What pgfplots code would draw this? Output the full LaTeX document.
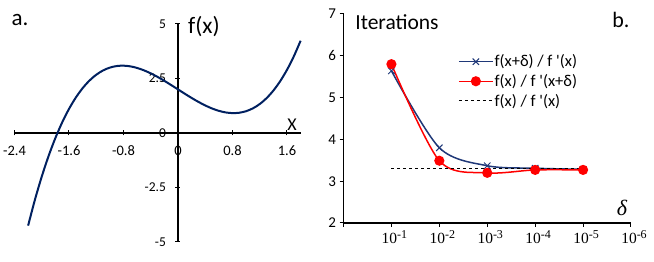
\documentclass[border=0pt]{standalone}
\usepackage{fontspec}
\setmainfont{Carlito}
\newfontfamily\serif{Liberation Serif}
\usepackage{pgfplots}
\pgfplotsset{compat=1.18}
\definecolor{navy}{RGB}{0,32,96}
\definecolor{navyb}{RGB}{31,56,120}
\newcommand{\tl}[1]{{\serif\fontsize{15.5}{15.5}\selectfont 10\raisebox{5.5pt}{\fontsize{12}{12}\selectfont -#1}}}
\begin{document}
\begin{tikzpicture}[x=1pt,y=1pt]
\useasboundingbox (0,0) rectangle (654,262);
\node[font=\fontsize{23}{23}\selectfont] at (20,242) {a.};
\node[font=\fontsize{23.5}{23.5}\selectfont] at (204,235) {f(x)};
\node[font=\fontsize{18}{18}\selectfont] at (292,137) {X};
\node[font=\fontsize{21.5}{21.5}\selectfont] at (397,240) {Iterations};
\node[font=\fontsize{22}{22}\selectfont] at (621,242) {b.};
\node[font=\fontsize{22}{22}\selectfont\serif\itshape] at (622,54) {δ};
\begin{axis}[
  at={(14.5pt,20pt)}, anchor=south west, scale only axis,
  width=286.1pt, height=218pt,
  xmin=-2.4, xmax=1.8, ymin=-5, ymax=5,
  axis lines=middle, axis line style={-, line width=1.2pt},
  hide obscured x ticks=false, hide obscured y ticks=false,
  xtick={-2.4,-1.6,-0.8,0,0.8,1.6},
  xticklabels={-2.4,-1.6,-0.8,0,0.8,1.6},
  ytick={-5,-2.5,0,2.5,5},
  yticklabels={-5,-2.5,0,2.5,5},
  tick align=center, major tick length=5pt, tick style={black, line width=1pt},
  xticklabel style={font=\fontsize{14.5}{14.5}\selectfont, yshift=-7pt},
  yticklabel style={font=\fontsize{13.5}{13.5}\selectfont, xshift=-6pt},
  clip=false,
]
\addplot[navy, line width=2pt, smooth] coordinates {
(-2.2,-4.248)(-2.1,-3.061)(-2.0,-2)(-1.9,-1.059)(-1.8,-0.232)(-1.7,0.487)
(-1.6,1.104)(-1.5,1.625)(-1.4,2.056)(-1.3,2.403)(-1.2,2.672)(-1.1,2.869)
(-1.0,3)(-0.9,3.071)(-0.8,3.088)(-0.7,3.057)(-0.6,2.984)(-0.5,2.875)
(-0.4,2.736)(-0.3,2.573)(-0.2,2.392)(-0.1,2.199)(0,2)(0.1,1.801)
(0.2,1.608)(0.3,1.427)(0.4,1.264)(0.5,1.125)(0.6,1.016)(0.7,0.943)
(0.8,0.912)(0.9,0.929)(1.0,1)(1.1,1.131)(1.2,1.328)(1.3,1.597)
(1.4,1.944)(1.5,2.375)(1.6,2.896)(1.7,3.513)(1.8,4.232)};
\end{axis}
\begin{axis}[
  at={(343.5pt,39pt)}, anchor=south west, scale only axis,
  width=287.5pt, height=209pt,
  xmin=0, xmax=6, ymin=2, ymax=7,
  axis x line=bottom, axis y line=left, axis line style={-, line width=1.2pt},
  xtick={0,1,2,3,4,5,6},
  xticklabels={,\tl{1},\tl{2},\tl{3},\tl{4},\tl{5},\tl{6}},
  ytick={2,3,4,5,6,7},
  yticklabels={2,3,4,5,6,7},
  tick align=outside, major tick length=4pt, tick style={black, line width=1pt},
  xticklabel style={xshift=3pt},
  yticklabel style={font=\fontsize{15}{15}\selectfont},
  legend style={at={(0.398,0.81)}, anchor=north west, draw=none, fill=none,
    font=\fontsize{16.5}{16.5}\selectfont, row sep=4pt, inner sep=0pt, nodes={inner sep=1pt}},
  legend cell align=left,
  legend image code/.code={\draw[mark repeat=2,mark phase=2,#1] plot coordinates {(0pt,0pt) (17pt,0pt) (34pt,0pt)};},
  clip=false,
]
\addplot[navyb, line width=1.5pt, smooth, mark=x, mark size=4.5pt, mark options={line width=1pt}] coordinates {(1,5.64)(2,3.80)(3,3.37)(4,3.31)(5,3.285)};
\addlegendentry{f(x+δ) / f \textquotesingle(x)}
\addplot[red, line width=1.5pt, smooth, mark=*, mark size=4.3pt] coordinates {(1,5.80)(2,3.49)(3,3.20)(4,3.27)(5,3.27)};
\addlegendentry{f(x) / f \textquotesingle(x+δ)}
\addplot[black, dashed, line width=1pt] coordinates {(1,3.30)(5,3.30)};
\addlegendentry{f(x) / f \textquotesingle(x)}
\end{axis}
\end{tikzpicture}
\end{document}
